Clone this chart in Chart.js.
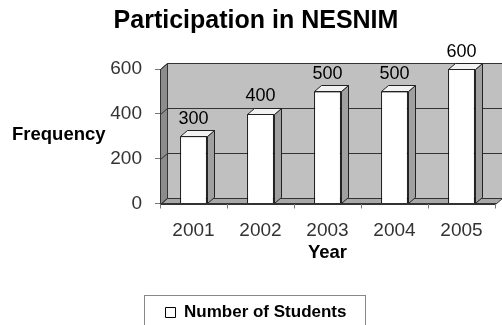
<!DOCTYPE html>
<html>
<head>
<meta charset="utf-8">
<title>Participation in NESNIM</title>
<script src="https://cdn.jsdelivr.net/npm/chart.js@4.4.1/dist/chart.umd.min.js"></script>
<style>
  html, body { margin: 0; padding: 0; background: #fff; }
  canvas { display: block; }
</style>
</head>
<body>
<canvas id="chart" width="502" height="325"></canvas>
<script>
const years = ['2001', '2002', '2003', '2004', '2005'];
const students = [300, 400, 500, 500, 600];
const yTicks = [0, 200, 400, 600];

const FONT = "'Liberation Sans', Arial, sans-serif";
const DX = 7, DY = 6; // depth of the fake 3d walls and bars

function px(v) {
    return Math.round(v) + 0.5;
}

function poly(ctx, pts, fill) {
    ctx.beginPath();
    pts.forEach((p, i) => i ? ctx.lineTo(px(p[0]), px(p[1])) : ctx.moveTo(px(p[0]), px(p[1])));
    ctx.closePath();
    ctx.fillStyle = fill;
    ctx.fill();
    ctx.stroke();
}

const walls3d = {
    id: 'walls3d',
    beforeDraw(chart) {
        const { ctx, chartArea: a, scales: { y } } = chart;
        const y0 = y.getPixelForValue(0);
        const yMax = y.getPixelForValue(yTicks[yTicks.length - 1]);
        ctx.save();
        ctx.lineWidth = 1;
        ctx.strokeStyle = '#333';

        // back wall, left wall, floor
        poly(ctx, [[a.left + DX, yMax - DY], [a.right + DX, yMax - DY], [a.right + DX, y0 - DY], [a.left + DX, y0 - DY]], '#c0c0c0');
        poly(ctx, [[a.left, y0], [a.left, yMax], [a.left + DX, yMax - DY], [a.left + DX, y0 - DY]], '#8c8c8c');
        poly(ctx, [[a.left, y0], [a.left + DX, y0 - DY], [a.right + DX, y0 - DY], [a.right, y0]], '#a8a8a8');

        // grid lines running over the left and back walls
        yTicks.forEach(v => {
            const py = y.getPixelForValue(v);
            ctx.beginPath();
            ctx.moveTo(px(a.left), px(py));
            ctx.lineTo(px(a.left + DX), px(py - DY));
            ctx.lineTo(px(a.right + DX), px(py - DY));
            ctx.stroke();
        });
        ctx.restore();
    },
    afterDatasetsDraw(chart) {
        const { ctx } = chart;
        const meta = chart.getDatasetMeta(0);
        ctx.save();
        ctx.lineWidth = 1;
        ctx.strokeStyle = '#222';
        meta.data.forEach((bar, i) => {
            const { x, y, base, width } = bar.getProps(['x', 'y', 'base', 'width'], true);
            const l = x - width / 2, r = x + width / 2;
            poly(ctx, [[r, y], [r + DX, y - DY], [r + DX, base - DY], [r, base]], '#a0a0a0');
            poly(ctx, [[l, y], [l + DX, y - DY], [r + DX, y - DY], [r, y]], '#f2f2f2');

            ctx.fillStyle = '#000';
            ctx.font = '18px ' + FONT;
            ctx.textAlign = 'center';
            ctx.textBaseline = 'alphabetic';
            ctx.fillText(String(students[i]), x, y - 12.5);
        });
        ctx.restore();
    },
    afterDraw(chart) {
        const { ctx } = chart;
        ctx.save();
        // horizontal y axis title
        ctx.fillStyle = '#000';
        ctx.font = 'bold 18.5px ' + FONT;
        ctx.textAlign = 'left';
        ctx.textBaseline = 'middle';
        ctx.fillText('Frequency', 12, 135);

        // frame around the legend
        const hb = chart.legend.legendHitBoxes[0];
        if (hb) {
            const mid = hb.top + hb.height / 2;
            ctx.strokeStyle = '#888';
            ctx.lineWidth = 1;
            ctx.strokeRect(px(hb.left - 22), px(mid - 18), Math.round(hb.width + 40), 60);
        }
        ctx.restore();
    }
};

new Chart(document.getElementById('chart'), {
    type: 'bar',
    data: {
        labels: years,
        datasets: [{
            label: 'Number of Students',
            data: students,
            backgroundColor: '#ffffff',
            borderColor: '#000000',
            borderWidth: 1,
            barPercentage: 0.4,
            categoryPercentage: 1
        }]
    },
    options: {
        responsive: false,
        animation: false,
        layout: { padding: { left: 17, right: 7, top: 0, bottom: -6 } },
        plugins: {
            title: {
                display: true,
                text: 'Participation in NESNIM',
                color: '#000',
                font: { family: FONT, size: 25, weight: 'bold' },
                padding: { top: 6, bottom: 33 }
            },
            legend: {
                position: 'bottom',
                labels: {
                    color: '#000',
                    font: { family: FONT, size: 17, weight: 'bold' },
                    boxWidth: 10,
                    boxHeight: 10,
                    padding: 10
                }
            },
            tooltip: { enabled: false }
        },
        scales: {
            x: {
                afterFit(scale) { scale.height = 90.5; },
                grid: { drawOnChartArea: false, drawTicks: true, tickLength: 5, color: '#777' },
                border: { display: true, color: '#333' },
                ticks: { color: '#333', font: { family: FONT, size: 19 }, padding: 11 },
                title: {
                    display: true,
                    text: 'Year',
                    color: '#000',
                    font: { family: FONT, size: 18.5, weight: 'bold' },
                    padding: { top: 0, bottom: 30 }
                }
            },
            y: {
                min: 0,
                max: 600,
                afterFit(scale) { scale.width = 143; },
                afterBuildTicks(scale) { scale.ticks = yTicks.map(v => ({ value: v })); },
                grid: { drawOnChartArea: false, drawTicks: true, tickLength: 5, color: '#777' },
                border: { display: true, color: '#333' },
                ticks: { color: '#333', font: { family: FONT, size: 19 }, padding: 13 }
            }
        }
    },
    plugins: [walls3d]
});
</script>
</body>
</html>
